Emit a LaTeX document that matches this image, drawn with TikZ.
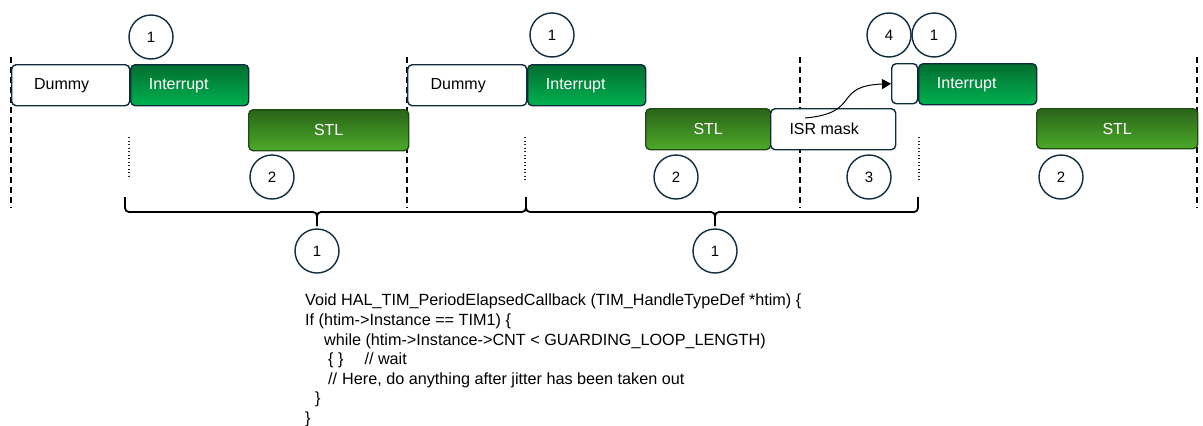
\documentclass[tikz,border=0pt]{standalone}
\usepackage{fontspec}
\setmainfont{Liberation Sans}
\usetikzlibrary{arrows.meta}
\definecolor{navy}{HTML}{0E2C3D}
\definecolor{intTop}{HTML}{036E30}
\definecolor{intBot}{HTML}{00B150}
\definecolor{stlTop}{HTML}{2A6419}
\definecolor{stlBot}{HTML}{4CAA29}
\definecolor{stlBorder}{HTML}{1F4A14}
\tikzset{
  box/.style={draw=navy, line width=1.4pt, rounded corners=4.5pt, inner sep=0pt, anchor=north west},
  whitebox/.style={box, fill=white},
  intbox/.style={box, top color=intTop, bottom color=intBot},
  stlbox/.style={box, draw=stlBorder, top color=stlTop, bottom color=stlBot},
  lbl/.style={font=\fontsize{16}{18}\selectfont, inner sep=0pt},
  wlbl/.style={lbl, text=white},
  num/.style={circle, draw=navy, line width=1.4pt, fill=white, minimum size=44pt, inner sep=0pt, font=\fontsize{15}{16}\selectfont},
  sep/.style={line width=1.5pt, dash pattern=on 6pt off 4pt},
  dots/.style={line width=1.4pt, dash pattern=on 1.1pt off 2.4pt, black!85},
  bracepath/.style={line width=1.8pt, rounded corners=4pt},
}
\begin{document}
\begin{tikzpicture}[x=1pt,y=-1pt]
\useasboundingbox (0,0) rectangle (1203,426);

% separators
\draw[sep] (11,57) -- (11,208);
\draw[sep] (407,57) -- (407,208);
\draw[sep] (800,57) -- (800,208);
\draw[sep] (1197,57) -- (1197,208);

% first period
\node[whitebox, minimum width=118pt, minimum height=41pt] (d1) at (11,64) {};
\node[lbl] (d1l) at ([xshift=-9pt]d1.center) {Dummy};
\node[intbox, minimum width=118pt, minimum height=41pt] (i1) at (130,64) {};
\node[wlbl] (i1l) at ([xshift=-11pt]i1.center) {Interrupt};
\node[stlbox, minimum width=160pt, minimum height=41pt] (s1) at (248,109) {};
\node[wlbl] (s1l) at (s1.center) {STL};
\node[num] (c1a) at (151,37) {1};
\node[num] (c2a) at (272,177) {2};
\draw[dots] (129,137) -- (129,176);

% second period
\node[whitebox, minimum width=119pt, minimum height=41pt] (d2) at (407,64) {};
\node[lbl] (d2l) at ([xshift=-9pt]d2.center) {Dummy};
\node[intbox, minimum width=118pt, minimum height=41pt] (i2) at (527,64) {};
\node[wlbl] (i2l) at ([xshift=-11pt]i2.center) {Interrupt};
\node[stlbox, minimum width=125pt, minimum height=41pt] (s2) at (645,108) {};
\node[wlbl] (s2l) at (s2.center) {STL};
\node[whitebox, minimum width=125pt, minimum height=41pt] (isr) at (770,108) {};
\node[lbl] (isrl) at ([xshift=-9pt]isr.center) {ISR mask};
\node[num] (c1b) at (552,35) {1};
\node[num] (c2b) at (676,177) {2};
\node[num] (c3) at (869,177) {3};
\draw[dots] (525,137) -- (525,180);

% third period
\node[whitebox, minimum width=26pt, minimum height=40pt] (sm) at (891,63) {};
\node[intbox, minimum width=118pt, minimum height=41pt] (i3) at (918,63) {};
\node[wlbl] (i3l) at ([xshift=-11pt]i3.center) {Interrupt};
\node[stlbox, minimum width=161pt, minimum height=40pt] (s3) at (1036,108) {};
\node[wlbl] (s3l) at (s3.center) {STL};
\node[num] (c4) at (889,35) {4};
\node[num] (c1c) at (934,35) {1};
\node[num] (c2c) at (1061,177) {2};
\draw[dots] (919,137) -- (919,180);

% arrow from ISR mask to the small box
\coordinate (astart) at (805,118);
\draw[line width=1pt, -{Triangle[length=9pt,width=10pt]}] (astart) .. controls (862,113) and (832,86) .. (sm.west);

% braces
\draw[bracepath] (125,197) -- (125,212) -- (317,212) -- (317,226);
\draw[bracepath] (526,197) -- (526,212) -- (317,212) -- (317,226);
\draw[bracepath] (526,197) -- (526,212) -- (715,212) -- (715,226);
\draw[bracepath] (918,197) -- (918,212) -- (715,212) -- (715,226);
\node[num] (b1) at (317,251) {1};
\node[num] (b2) at (715,251) {1};

% code
\node[anchor=north west, align=left, inner sep=0pt, font=\fontsize{16.2}{19.6}\selectfont] (code) at (305,294) {%
Void HAL\_TIM\_PeriodElapsedCallback (TIM\_HandleTypeDef *htim) \{\\
If (htim->Instance == TIM1) \{\\
\hspace*{19pt}while (htim->Instance->CNT < GUARDING\_LOOP\_LENGTH)\\
\hspace*{23pt}\{ \}\hspace*{21pt}// wait\\
\hspace*{23pt}//\hspace*{5pt}Here, do anything after jitter has been taken out\\
\hspace*{10pt}\}\\
\}};
\end{tikzpicture}
\end{document}
